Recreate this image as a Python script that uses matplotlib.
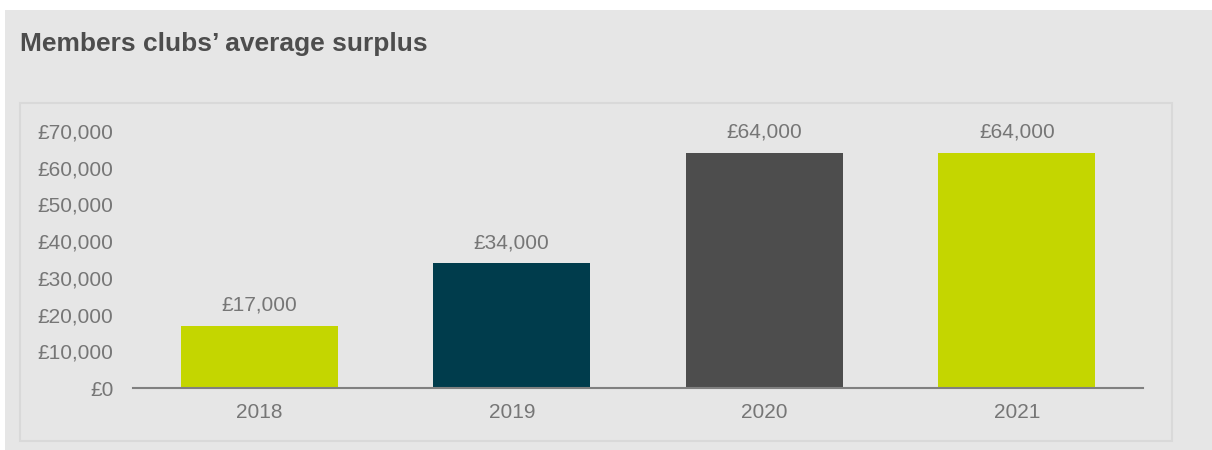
import matplotlib.pyplot as plt
from matplotlib.patches import Rectangle

# Data
years = ["2018", "2019", "2020", "2021"]
surplus = [17000, 34000, 64000, 64000]
bar_colors = ["#c4d600", "#003c4c", "#4d4d4d", "#c4d600"]
y_ticks = [0, 10000, 20000, 30000, 40000, 50000, 60000, 70000]

W, H = 1212, 450
plt.rcParams['font.family'] = ['Liberation Sans', 'DejaVu Sans']

fig = plt.figure(figsize=(W / 100, H / 100), dpi=100)
fig.patch.set_facecolor("white")

# outer gray card
fig.patches.append(Rectangle((5 / W, 0), 1 - 5 / W, 1 - 10 / H,
                             transform=fig.transFigure, facecolor="#e6e6e6",
                             edgecolor="none", zorder=-2))
# inner panel border
fig.patches.append(Rectangle((20 / W, 1 - 441 / H), (1172 - 20) / W, (441 - 103) / H,
                             transform=fig.transFigure, facecolor="none",
                             edgecolor="#d9d9d9", linewidth=1.5, zorder=-1))

fig.text(20 / W, 1 - 44 / H, "Members clubs\u2019 average surplus",
         fontsize=19, fontweight="bold", color="#4d4d4d", va="center", ha="left")

ax = fig.add_axes([133 / W, 1 - 388 / H, (1143 - 133) / W, (388 - 131) / H])
ax.set_facecolor("none")
ax.set_zorder(2)

x = range(len(years))
bars = ax.bar(x, surplus, width=0.62, color=bar_colors, zorder=2)
ax.set_xlim(-0.5, len(years) - 0.5)
ax.set_ylim(0, 70000)
ax.set_yticks(y_ticks)
ax.set_yticklabels([f"\u00a3{v:,}" for v in y_ticks])
ax.set_xticks(list(x))
ax.set_xticklabels(years)

for b, v in zip(bars, surplus):
    ax.annotate(f"\u00a3{v:,}", (b.get_x() + b.get_width() / 2, v),
                xytext=(0, 8), textcoords="offset points",
                ha="center", va="bottom", fontsize=15, color="#767676")

for s in ["top", "right", "left"]:
    ax.spines[s].set_visible(False)
ax.spines["bottom"].set_color("#808080")
ax.spines["bottom"].set_linewidth(1.5)
ax.tick_params(axis="both", length=0, labelsize=15, labelcolor="#767676")
ax.tick_params(axis="y", pad=14)
ax.tick_params(axis="x", pad=11)

fig.savefig("out.png", dpi=100, facecolor=fig.get_facecolor())
